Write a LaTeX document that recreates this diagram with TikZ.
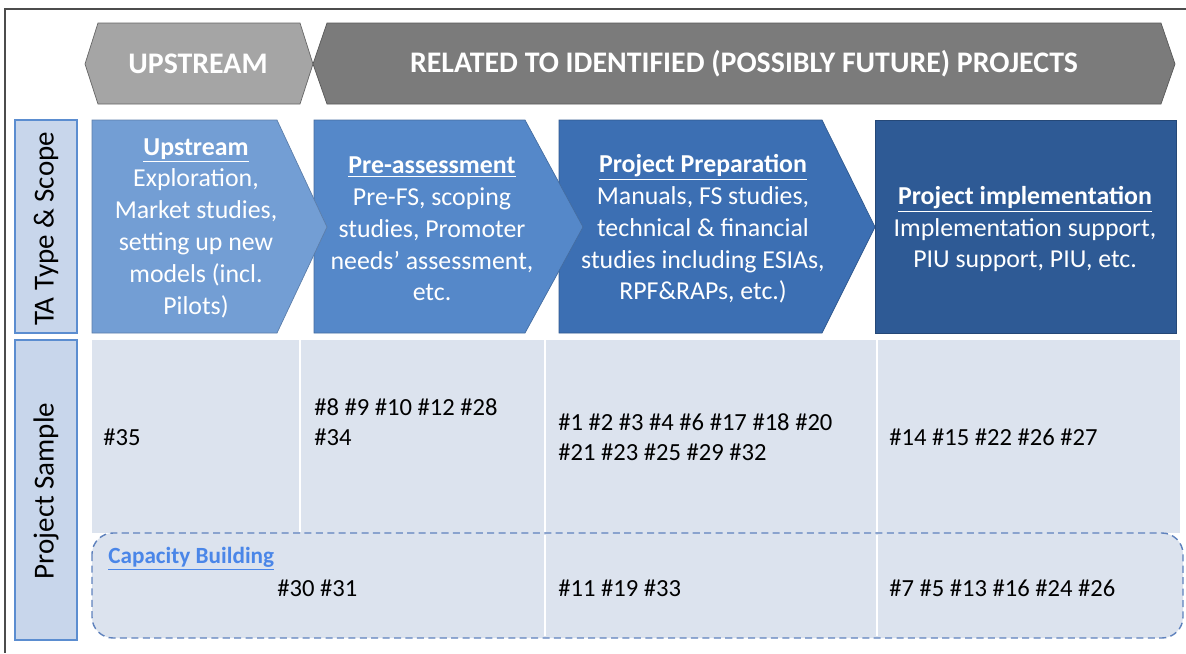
\documentclass[tikz,border=0pt]{standalone}
\usepackage{fontspec}
\setmainfont{Carlito}
\definecolor{hdrlight}{HTML}{A5A5A5}
\definecolor{hdrdark}{HTML}{7B7B7B}
\definecolor{tone1}{HTML}{739ED4}
\definecolor{tone2}{HTML}{5588C9}
\definecolor{tone3}{HTML}{3C6FB3}
\definecolor{tone4}{HTML}{2E5A95}
\definecolor{cellbg}{HTML}{DCE3EE}
\definecolor{sidebg}{HTML}{C8D6EB}
\definecolor{sideedge}{HTML}{5B8DD0}
\definecolor{linkblue}{HTML}{4A86E8}
\definecolor{dashblue}{HTML}{5F82BD}
\begin{document}
\begin{tikzpicture}[x=0.02cm,y=-0.02cm,
  hdr/.style={font=\fontsize{17}{20}\selectfont\bfseries,text=white},
  scopetext/.style={font=\fontsize{14.7}{18.1}\selectfont,text=white,align=center},
  nums/.style={font=\fontsize{14}{17}\selectfont,align=left,anchor=west,inner sep=0pt},
  sidebox/.style={draw=sideedge,fill=sidebg,line width=0.8pt},
  sidetext/.style={font=\fontsize{16.5}{20}\selectfont,rotate=90}]
\useasboundingbox (0,0) rectangle (1186,653);
\draw[gray!60!black,line width=0.6pt] (1186,9)--(5,9)--(5,653);
\draw[fill=hdrlight,draw=gray!80!black] (85,64)--(98,23)--(300,23)--(313,64)--(300,104)--(98,104)--cycle;
\draw[fill=hdrdark,draw=gray!70!black] (313,64)--(327,23)--(1161,23)--(1175,64)--(1161,104)--(327,104)--cycle;
\node[hdr] (upstreamhdr) at (198,64) {UPSTREAM};
\node[hdr] (relatedhdr) at (744,64) {RELATED TO IDENTIFIED (POSSIBLY FUTURE) PROJECTS};
\draw[sidebox] (15,120) rectangle (77,333);
\node[sidetext] (tascope) at (46,229) {TA Type \& Scope};
\draw[sidebox] (15,340) rectangle (77,640);
\node[sidetext] (projsample) at (46,491) {Project Sample};
\draw[fill=tone4,draw=tone4!80!black] (875,120) rectangle (1176,333);
\draw[fill=tone3,draw=tone3!80!black] (559,120)--(822,120)--(875,227)--(822,333)--(559,333)--cycle;
\draw[fill=tone2,draw=tone2!80!black] (314,120)--(525,120)--(583,227)--(525,333)--(314,333)--cycle;
\draw[fill=tone1,draw=tone1!80!black] (92,120)--(277,120)--(327,227)--(277,333)--(92,333)--cycle;
\node[scopetext] (upstreamtxt) at (196,228) {\underline{\textbf{Upstream}}\\Exploration,\\Market studies,\\setting up new\\models (incl.\\Pilots)};
\node[scopetext] (preassess) at (432,229) {\underline{\textbf{Pre-assessment}}\\Pre-FS, scoping\\studies, Promoter\\needs' assessment,\\etc.};
\node[scopetext] (preparation) at (703,229) {\underline{\textbf{Project Preparation}}\\Manuals, FS studies,\\technical \& financial\\studies including ESIAs,\\RPF\&RAPs, etc.)};
\node[scopetext] (implementation) at (1025,229) {\underline{\textbf{Project implementation}}\\Implementation support,\\PIU support, PIU, etc.};
\fill[cellbg] (92,340) rectangle (1180,533);
\draw[dashblue,line width=0.8pt,dash pattern=on 4pt off 2.5pt,fill=cellbg,rounded corners=12] (92,533) rectangle (1183,638);
\draw[white,line width=1.2pt] (300,340)--(300,532) (545,340)--(545,532) (877,340)--(877,532)
  (545,535)--(545,636) (877,535)--(877,636);
\node[nums] (sample35) at (103,437) {\#35};
\node[nums] (samplepre) at (314,422) {\#8 \#9 \#10 \#12 \#28\\\#34};
\node[nums] (sampleprep) at (558,437) {\#1 \#2 \#3 \#4 \#6 \#17 \#18 \#20\\\#21 \#23 \#25 \#29 \#32};
\node[nums] (sampleimpl) at (889,437) {\#14 \#15 \#22 \#26 \#27};
\node[nums,font=\fontsize{13.2}{16}\selectfont\bfseries,text=linkblue] (capacity) at (108,559) {\underline{Capacity Building}};
\node[nums] (capup) at (277,588) {\#30 \#31};
\node[nums] (capprep) at (558,588) {\#11 \#19 \#33};
\node[nums] (capimpl) at (889,588) {\#7 \#5 \#13 \#16 \#24 \#26};
\end{tikzpicture}
\end{document}
